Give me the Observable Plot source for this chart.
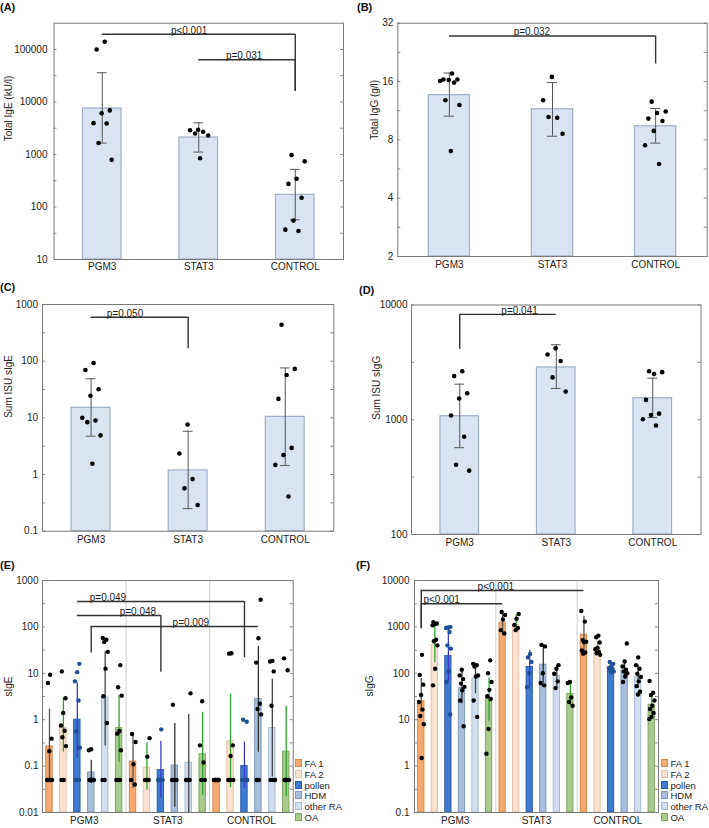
<!DOCTYPE html>
<html><head><meta charset="utf-8">
<script src="https://cdn.jsdelivr.net/npm/d3@7"></script>
<script src="https://cdn.jsdelivr.net/npm/@observablehq/plot@0.6"></script>
<style>
body{margin:0;background:#fff;font-family:"Liberation Sans",Arial,Helvetica,sans-serif;}
#root{position:relative;width:709px;height:828px;overflow:hidden;background:#fff;}
.panel{position:absolute;}
.tag{position:absolute;font-weight:bold;font-size:11px;color:#111;line-height:12px;}
.leg{position:absolute;font-size:9.5px;color:#222;line-height:11px;}
.leg div{position:relative;height:10.8px;white-space:nowrap;}
.leg span.sw{display:inline-block;width:5px;height:6px;border:1px solid;margin-right:2.5px;vertical-align:0px;}
</style></head><body><div id="root"></div>
<script>
// ---------- data ----------
const groups = ["PGM3", "STAT3", "CONTROL"];
const series = ["FA 1", "FA 2", "pollen", "HDM", "other RA", "OA"];

// (A) Total IgE (kU/l)
const A_mean = [7500, 2100, 170];
const A_lo = [1650, 1110, 57];
const A_hi = [36000, 4000, 520];
const A_pts = [[140000, 100000, 6900, 6100, 3950, 3900, 1650, 790], [2950, 2900, 2700, 2500, 2300, 850], [980, 740, 345, 275, 150, 55, 37, 35]];
const A_brackets = [
  {from: 0, to: 2, y: 195000, at: 2, drop: 16000, label: "p<0.001", labelX: 0.9},
  {from: 1, to: 2, y: 63500, at: 2, drop: 16000, label: "p=0.031", labelX: 1.47}
];
const A_ticks = [10, 100, 1000, 10000, 100000];

// (B) Total IgG (g/l)
const B_mean = [13.6, 11.5, 9.4];
const B_lo = [10.6, 8.35, 7.7];
const B_hi = [17.7, 15.8, 11.6];
const B_pts = [[17.6, 16.4, 16.4, 16.3, 16.1, 15.8, 12.8, 12.1, 7.0], [16.9, 12.8, 10.4, 10.5, 8.6], [12.6, 11.2, 11.0, 10.3, 10.0, 8.9, 7.5, 6.0]];
const B_brackets = [{from: 0, to: 2, y: 27.5, at: 2, drop: 19.7, label: "p=0.032", labelX: 0.8}];
const B_ticks = [2, 4, 8, 16, 32];

// (C) Sum ISU sIgE
const C_mean = [15, 1.18, 10.4];
const C_lo = [4.75, 0.25, 1.44];
const C_hi = [49, 5.8, 76];
const C_pts = [[93, 70, 32, 24.5, 10, 9, 8.4, 4.9, 1.55], [7.6, 2.35, 0.83, 0.57, 0.29], [440, 73, 57, 21.6, 2.95, 2.2, 1.48, 0.41]];
const C_brackets = [{from: 0, to: 1, y: 597, at: 1, drop: 165, label: "p=0.050", labelX: 0.35}];
const C_ticks = [0.1, 1, 10, 100, 1000];

// (D) Sum ISU sIgG
const D_mean = [1073, 2856, 1541];
const D_lo = [571, 1872, 1045];
const D_hi = [2042, 4504, 2303];
const D_pts = [[2650, 2400, 1700, 1530, 1090, 710, 405, 360], [4190, 3700, 3250, 2340, 1760], [2650, 2600, 2500, 1490, 1130, 1100, 1010, 890]];
const D_brackets = [{from: 0, to: 1, y: 8280, at: 0, drop: 4100, label: "p=0.041", labelX: 0.62}];
const D_ticks = [100, 1000, 10000];

// (E) sIgE by allergen group
const E_mean = [
  [0.265, 0.66, 1.0, 0.073, 3.0, 0.66],
  [0.125, 0.093, 0.082, 0.103, 0.118, 0.18],
  [0.05, 0.34, 0.1, 2.8, 0.66, 0.205]
];
const E_lo = [
  [0.045, 0.2, 0.15, 0.042, 0.27, 0.12],
  [0.033, 0.03, 0.02, 0.013, 0.01, 0.023],
  [0.05, 0.034, 0.033, 0.2, 0.058, 0.022]
];
const E_hi = [
  [1.7, 2.9, 6.2, 0.134, 29, 3.4],
  [0.52, 0.32, 0.34, 0.83, 1.3, 1.44],
  [0.05, 3.55, 0.33, 38, 7.4, 1.95]
];
const E_pts = [
  [[9.3, 6.2, 0.39, 0.21, 0.05, 0.05, 0.05, 0.05, 0.05],
   [11, 2.9, 1.4, 0.75, 0.58, 0.42, 0.27, 0.05, 0.05],
   [16, 10.6, 6.7, 2.6, 0.56, 0.25, 0.05, 0.05, 0.05],
   [0.23, 0.22, 0.05, 0.05, 0.05, 0.05, 0.05, 0.05, 0.05],
   [58, 53, 47, 29, 12.6, 3.2, 0.85, 0.05, 0.05],
   [15, 5, 3.3, 0.57, 0.5, 0.22, 0.05, 0.05, 0.05]],
  [[0.49, 0.33, 0.11, 0.05, 0.04],
   [0.4, 0.16, 0.05, 0.05, 0.05],
   [0.62, 0.05, 0.05, 0.05, 0.05],
   [2.1, 0.05, 0.05, 0.05, 0.05],
   [3.7, 0.05, 0.05, 0.05, 0.05],
   [2.5, 0.28, 0.12, 0.05, 0.05]],
  [[0.05, 0.05, 0.05, 0.05, 0.05, 0.05, 0.05, 0.05],
   [27, 26.5, 0.28, 0.165, 0.05, 0.05, 0.05, 0.05],
   [1.0, 0.9, 0.05, 0.05, 0.05, 0.05, 0.05, 0.05],
   [385, 57, 17, 2.2, 1.7, 1.3, 0.05, 0.05],
   [18.5, 18, 11, 2.0, 0.05, 0.05, 0.05, 0.05],
   [21, 11.6, 0.05, 0.05, 0.05, 0.05, 0.05, 0.05]]
];
const E_brackets = [
  {from: 2, to: 14, y: 353, at: 14, drop: 21.7, label: "p=0.049", labelX: 4.2},
  {from: 2, to: 8, y: 176, at: 8, drop: 10.6, label: "p=0.048", labelX: 6.35},
  {from: 3, to: 15, y: 102, at: 3, drop: 27.3, label: "p=0.009", labelX: 10.15}
];
const E_ticks = [0.01, 0.1, 1, 10, 100, 1000];

// (F) sIgG by allergen group
const F_mean = [
  [25, 413, 236, 48, 77, 28],
  [1230, 1080, 137, 153, 88, 36],
  [680, 360, 130, 115, 82, 21]
];
const F_lo = [
  [15, 169, 65, 22, 36, 9],
  [680, 850, 50, 62, 47, 20],
  [290, 300, 110, 75, 47, 12.5]
];
const F_hi = [
  [77, 1170, 1000, 110, 165, 80],
  [2250, 1800, 310, 400, 150, 65],
  [1700, 480, 165, 190, 150, 37]
];
const F_pts = [
  [[250, 92, 57, 34, 24, 16.5, 12, 8, 1.5],
   [1270, 1180, 1150, 1080, 530, 490, 400, 125, 55],
   [1000, 970, 950, 780, 400, 340, 110, 65, 13],
   [120, 90, 75, 60, 51, 43, 26, 7.2],
   [160, 150, 140, 90, 85, 26, 11.5],
   [190, 100, 65, 44, 32, 28, 6.3, 1.85]],
  [[2100, 1800, 1450, 850, 720],
   [1900, 1500, 1100, 950, 850],
   [260, 220, 175, 100, 50],
   [410, 380, 100, 62, 55],
   [150, 125, 98, 67, 48],
   [65, 62, 30, 24, 20]],
  [[2200, 1300, 520, 480, 470, 310, 280, 265],
   [650, 600, 460, 350, 330, 290, 270, 250],
   [175, 160, 140, 130, 125, 120, 110, 105],
   [440, 180, 140, 120, 110, 100, 85, 65],
   [220, 150, 125, 98, 83, 67, 53, 40, 35],
   [68, 38, 34, 26, 20, 17, 14, 11.5, 10.3]]
];
const F_brackets = [
  {from: 0, to: 12, y: 6090, at: 0, drop: 914, label: "p<0.001", labelX: 5.5},
  {from: 0, to: 6, y: 3150, at: 0, drop: 914, label: "p<0.001", labelX: 1.5}
];
const F_ticks = [0.1, 1, 10, 100, 1000, 10000];

// ---------- styles ----------
const seriesFill = ["#f5aa72", "#fbe2d2", "#3f7bd0", "#a9bedb", "#d2deed", "#abca8e"];
const seriesStroke = ["#d9874a", "#e9bfa5", "#2d5fae", "#7f99bd", "#a8bad3", "#80a563"];
const seriesErr = ["#555555", "#2fa52f", "#3c3cc8", "#333333", "#444444", "#2fa52f"];
const FONT = "'Liberation Sans', Arial, Helvetica, sans-serif";

const root = document.getElementById("root");

function jit(j) { return (((j + 1) * 0.6180339887) % 1) - 0.5; }

function minorTicks(domain, base) {
  const out = [];
  const lo = Math.log(domain[0]) / Math.log(base), hi = Math.log(domain[1]) / Math.log(base);
  for (let k = Math.ceil(lo * 2 - 1e-6); k / 2 <= hi + 1e-6; k++) out.push(Math.pow(base, k / 2));
  return out;
}

function place(svg, left, top) {
  const d = document.createElement("div");
  d.className = "panel";
  d.style.left = left + "px";
  d.style.top = top + "px";
  d.appendChild(svg);
  root.appendChild(d);
}

function bracketMarks(br) {
  return [
    Plot.ruleY(br, {y: "y", x1: "from", x2: "to", stroke: "#333", strokeWidth: 1.4}),
    Plot.ruleX(br, {x: "at", y1: "drop", y2: "y", stroke: "#333", strokeWidth: 1.4}),
    Plot.text(br, {x: "labelX", y: "y", text: "label", lineAnchor: "bottom", dy: -0.5, fontSize: 10, fill: "#222"})
  ];
}

function frameTicks(domain, base, fw) {
  const m = minorTicks(domain, base);
  return [
    Plot.ruleY(m, {insetRight: fw - 3, stroke: "#888"}),
    Plot.ruleY(m, {insetLeft: fw - 3, stroke: "#888"})
  ];
}

function simplePanel(c) {
  const rows = groups.map((g, i) => ({i, mean: c.mean[i], lo: c.lo[i], hi: c.hi[i]}));
  const pts = c.pts.flatMap((arr, i) => arr.map((v, j) => ({i, v, j})));
  const fw = c.w - c.ml - c.mr;
  const ymin = c.domain[0];
  const svg = Plot.plot({
    width: c.w, height: c.h,
    marginLeft: c.ml, marginRight: c.mr, marginTop: c.mt, marginBottom: c.mb,
    style: {fontFamily: FONT, fontSize: "10px", color: "#222", background: "transparent"},
    x: {type: "linear", domain: [-0.5, 2.5]},
    y: {type: "log", base: c.base, domain: c.domain},
    marks: [
      Plot.rect(rows, {x1: d => d.i - 0.2, x2: d => d.i + 0.2, y1: ymin, y2: "mean", fill: "#dae4f1", stroke: "#9eaec6", strokeWidth: 1.2}),
      Plot.ruleX(rows, {x: "i", y1: "lo", y2: "hi", stroke: "#555", strokeWidth: 1}),
      Plot.ruleY(rows, {y: "lo", x1: d => d.i - 0.05, x2: d => d.i + 0.05, stroke: "#555"}),
      Plot.ruleY(rows, {y: "hi", x1: d => d.i - 0.05, x2: d => d.i + 0.05, stroke: "#555"}),
      Plot.dot(pts, {x: d => d.i + 0.22 * jit(d.j + d.i * 3), y: "v", r: 2.3, fill: "#000"}),
      ...bracketMarks(c.brackets),
      ...frameTicks(c.domain, c.base, fw),
      Plot.frame({stroke: "#7a7a7a", strokeWidth: 1}),
      Plot.axisY({ticks: c.ticks, tickFormat: d => String(d), tickSize: 0, tickPadding: c.ytp, label: null}),
      Plot.axisX({ticks: [0, 1, 2], tickFormat: i => groups[i], tickSize: 0, tickPadding: c.xtp, label: null}),
      Plot.text([c.ylabel], {text: d => d, frameAnchor: "left", dx: c.ylx, rotate: -90, fontSize: 10, fill: "#222"})
    ]
  });
  place(svg, c.left, c.top);
}

function groupedPanel(c) {
  const bars = [], pts = [];
  groups.forEach((g, gi) => series.forEach((s, si) => {
    const slot = gi * series.length + si;
    bars.push({slot, si, mean: c.mean[gi][si], lo: c.lo[gi][si], hi: c.hi[gi][si]});
    c.pts[gi][si].forEach((v, j) => pts.push({slot, si, v, j}));
  }));
  const n = groups.length * series.length;
  const dividers = groups.slice(1).map((g, k) => (k + 1) * series.length - 0.5);
  const centers = groups.map((g, k) => k * series.length + (series.length - 1) / 2);
  const fw = c.w - c.ml - c.mr;
  const ymin = c.domain[0];
  const svg = Plot.plot({
    width: c.w, height: c.h,
    marginLeft: c.ml, marginRight: c.mr, marginTop: c.mt, marginBottom: c.mb,
    style: {fontFamily: FONT, fontSize: "10px", color: "#222", background: "transparent"},
    x: {type: "linear", domain: [-0.5, n - 0.5]},
    y: {type: "log", base: 10, domain: c.domain},
    color: {type: "identity"},
    marks: [
      Plot.ruleX(dividers, {stroke: "#cfcfcf", strokeWidth: 1}),
      Plot.rect(bars, {x1: d => d.slot - 0.23, x2: d => d.slot + 0.23, y1: ymin, y2: "mean", fill: d => seriesFill[d.si], stroke: d => seriesStroke[d.si], strokeWidth: 1}),
      Plot.ruleX(bars.filter(d => d.hi > d.lo), {x: "slot", y1: "lo", y2: "hi", stroke: d => seriesErr[d.si], strokeWidth: 1.3}),
      Plot.dot(pts, {x: d => d.slot + 0.42 * jit(d.j + d.slot), y: "v", r: 2.2, fill: d => d.si === 2 ? "#1f4f96" : "#000"}),
      ...bracketMarks(c.brackets),
      ...frameTicks(c.domain, 10, fw),
      Plot.frame({stroke: "#7a7a7a", strokeWidth: 1}),
      Plot.axisY({ticks: c.ticks, tickFormat: d => String(d), tickSize: 0, tickPadding: c.ytp, label: null}),
      Plot.axisX({ticks: centers, tickFormat: v => groups[Math.round((v - (series.length - 1) / 2) / series.length)], tickSize: 0, tickPadding: c.xtp, label: null}),
      Plot.text([c.ylabel], {text: d => d, frameAnchor: "left", dx: c.ylx, rotate: -90, fontSize: 10, fill: "#222"})
    ]
  });
  place(svg, c.left, c.top);
}

simplePanel({left: 0, top: 0, w: 354, h: 280, ml: 53.5, mr: 11, mt: 22.7, mb: 21, domain: [10, 316000], base: 10,
  mean: A_mean, lo: A_lo, hi: A_hi, pts: A_pts, brackets: A_brackets, ticks: A_ticks, ytp: 6.5, xtp: 3, ylabel: "Total IgE (kU/l)", ylx: -45});
simplePanel({left: 354, top: 0, w: 355, h: 280, ml: 43.3, mr: 2.3, mt: 22.7, mb: 24, domain: [2, 32], base: 2,
  mean: B_mean, lo: B_lo, hi: B_hi, pts: B_pts, brackets: B_brackets, ticks: B_ticks, ytp: 4.5, xtp: 4.5, ylabel: "Total IgG (g/l)", ylx: -23.5});
simplePanel({left: 0, top: 280, w: 354, h: 280, ml: 42, mr: 20.7, mt: 24, mb: 29.3, domain: [0.1, 1000], base: 10,
  mean: C_mean, lo: C_lo, hi: C_hi, pts: C_pts, brackets: C_brackets, ticks: C_ticks, ytp: 4.5, xtp: 4.5, ylabel: "Sum ISU sIgE", ylx: -33.7});
simplePanel({left: 354, top: 280, w: 355, h: 280, ml: 57, mr: 8.5, mt: 24.5, mb: 26, domain: [100, 10000], base: 10,
  mean: D_mean, lo: D_lo, hi: D_hi, pts: D_pts, brackets: D_brackets, ticks: D_ticks, ytp: 4, xtp: 4.5, ylabel: "Sum ISU sIgG", ylx: -35});
groupedPanel({left: 0, top: 560, w: 354, h: 268, ml: 42, mr: 61.3, mt: 20, mb: 16, domain: [0.01, 1000],
  mean: E_mean, lo: E_lo, hi: E_hi, pts: E_pts, brackets: E_brackets, ticks: E_ticks, ytp: 4, xtp: 4.5, ylabel: "sIgE", ylx: -33.7});
groupedPanel({left: 354, top: 560, w: 355, h: 268, ml: 60, mr: 51, mt: 20, mb: 16, domain: [0.1, 10000],
  mean: F_mean, lo: F_lo, hi: F_hi, pts: F_pts, brackets: F_brackets, ticks: F_ticks, ytp: 5, xtp: 4.5, ylabel: "sIgG", ylx: -45});

// panel tags
[["(A)", 0, 1], ["(B)", 357, 1], ["(C)", 0, 281], ["(D)", 359, 284], ["(E)", 0, 559], ["(F)", 356, 559]].forEach(([t, x, y]) => {
  const d = document.createElement("div");
  d.className = "tag"; d.textContent = t; d.style.left = x + "px"; d.style.top = y + "px";
  root.appendChild(d);
});

// legends
function legend(left, top) {
  const L = document.createElement("div");
  L.className = "leg"; L.style.left = left + "px"; L.style.top = top + "px";
  series.forEach((s, i) => {
    const row = document.createElement("div");
    const sw = document.createElement("span");
    sw.className = "sw"; sw.style.background = seriesFill[i]; sw.style.borderColor = seriesStroke[i];
    row.appendChild(sw);
    row.appendChild(document.createTextNode(s));
    L.appendChild(row);
  });
  root.appendChild(L);
}
legend(295, 758);
legend(661, 758);
</script></body></html>
